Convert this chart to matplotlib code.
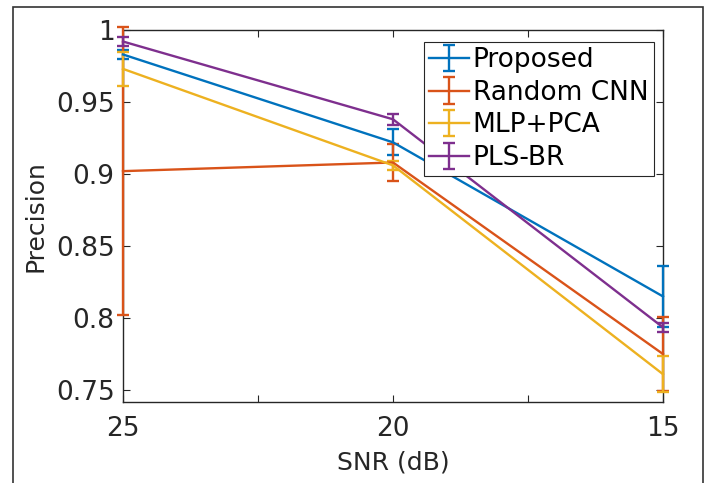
import matplotlib
matplotlib.use("Agg")
import matplotlib.pyplot as plt
from matplotlib.patches import Rectangle
from matplotlib.ticker import FixedLocator

snr = [25, 20, 15]
series = ["Proposed", "Random CNN", "MLP+PCA", "PLS-BR"]
proposed = [0.983, 0.922, 0.815]
proposed_err = [0.003, 0.009, 0.021]
random_cnn = [0.902, 0.908, 0.775]
random_cnn_err = [0.100, 0.0127, 0.026]
mlp_pca = [0.973, 0.906, 0.761]
mlp_pca_err = [0.012, 0.003, 0.0125]
pls_br = [0.992, 0.938, 0.7935]
pls_br_err = [0.003, 0.004, 0.003]
colors = ["#0072BD", "#D95319", "#EDB120", "#7E2F8E"]
yticks = [0.75, 0.8, 0.85, 0.9, 0.95, 1.0]
yticklabels = ["0.75", "0.8", "0.85", "0.9", "0.95", "1"]
xticks = [25, 20, 15]

plt.rcParams['font.family'] = ['DejaVu Sans']
fig = plt.figure(figsize=(7.17, 4.83), dpi=100)
ax = fig.add_axes([123/717, 1-402/483, 540/717, 372/483])

vals = [proposed, random_cnn, mlp_pca, pls_br]
errs = [proposed_err, random_cnn_err, mlp_pca_err, pls_br_err]
for name, v, e, c in zip(series, vals, errs, colors):
    cont = ax.errorbar(snr, v, yerr=e, color=c, lw=1.7, elinewidth=1.7,
                       capsize=4, capthick=1.7, label=name, zorder=3)
    for art in cont.get_children():
        art.set_clip_on(False)

ax.set_xlim(25, 15)
ax.set_ylim(0.7417, 1.0)
ax.set_xticks(xticks)
ax.set_xticklabels([str(x) for x in xticks])
ax.xaxis.set_minor_locator(FixedLocator([22.5, 17.5]))
ax.set_yticks(yticks)
ax.set_yticklabels(yticklabels)
axc = "#262626"
ax.tick_params(axis='both', which='both', direction='in', top=True, right=True,
               labelsize=19, colors=axc, length=5, width=0.8)
ax.tick_params(axis='x', pad=10)
ax.tick_params(axis='y', pad=6)
for s in ax.spines.values():
    s.set_color(axc)
    s.set_linewidth(1.0)
ax.set_xlabel("SNR (dB)", fontsize=18, color=axc, labelpad=6)
ax.set_ylabel("Precision", fontsize=18, color=axc, labelpad=6)

leg = ax.legend(loc='upper left', bbox_to_anchor=(424/717, 1-42/483),
                bbox_transform=fig.transFigure, fontsize=19, frameon=True,
                fancybox=False, framealpha=1, edgecolor=axc, borderpad=0.2,
                labelspacing=0.25, handlelength=1.5, handletextpad=0.15,
                borderaxespad=0)
leg.get_frame().set_linewidth(0.8)

fig.add_artist(Rectangle((13/717, -0.1), 690/717, 1.1 - 7/483,
                         transform=fig.transFigure, fill=False,
                         edgecolor="#333333", lw=1.2))

fig.savefig("out.png", dpi=100)
